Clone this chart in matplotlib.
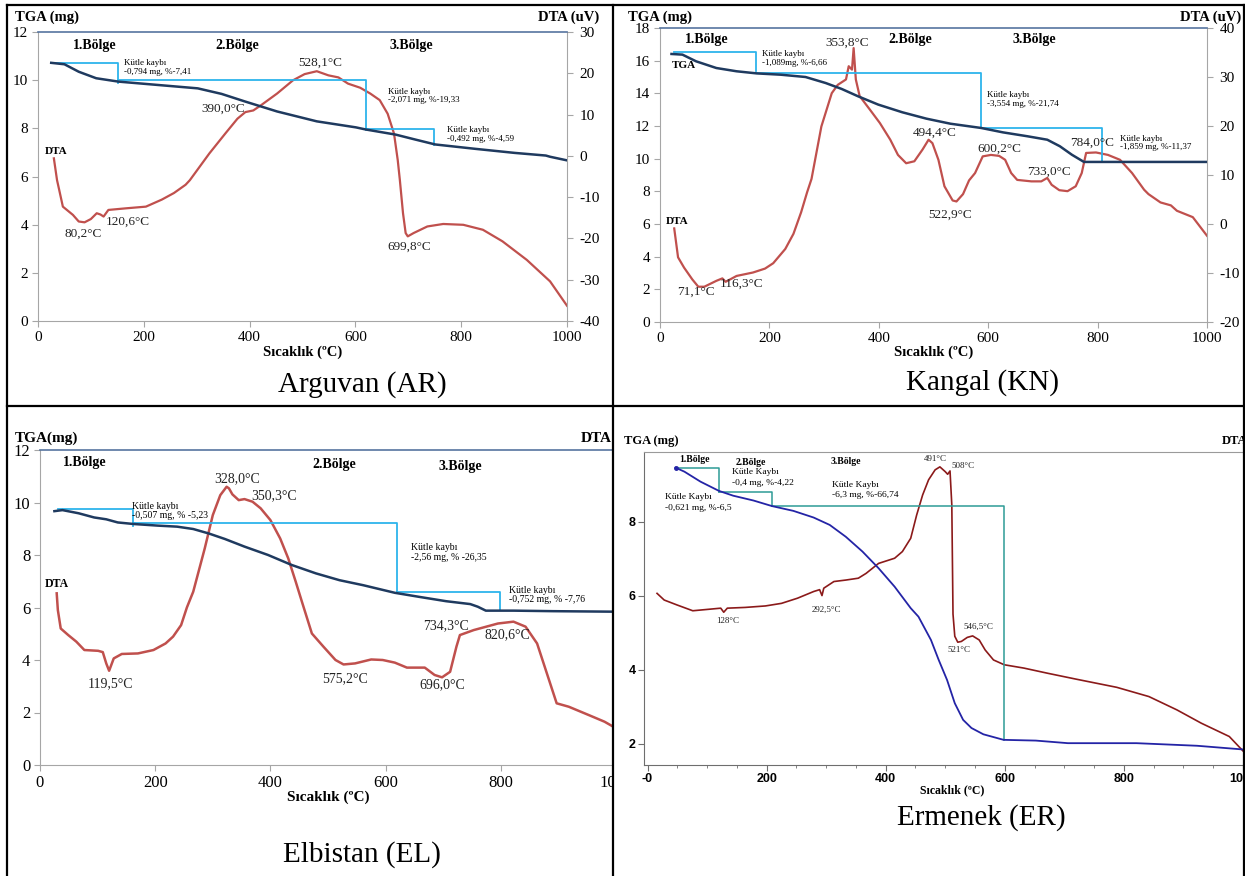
import matplotlib
matplotlib.use("Agg")
import matplotlib.pyplot as plt
from matplotlib.lines import Line2D
from matplotlib.patches import Rectangle
from matplotlib.transforms import Bbox, TransformedBbox
from matplotlib import font_manager

plt.rcParams['font.family'] = ['Liberation Serif', 'DejaVu Sans']
plt.rcParams['axes.unicode_minus'] = False
names = {f.name for f in font_manager.fontManager.ttflist}
NARROW = 'Liberation Sans Narrow' if 'Liberation Sans Narrow' in names else 'Liberation Sans'

# ---------------- data: Arguvan (AR) ----------------
ar_tga_T = [25, 50, 77, 110, 152, 227, 302, 347, 392, 452, 527, 601, 620, 676, 714, 751, 826, 901, 960, 968, 1000]
ar_tga_v = [10.72, 10.66, 10.35, 10.08, 9.94, 9.80, 9.66, 9.43, 9.11, 8.70, 8.29, 8.04, 7.95, 7.74, 7.53, 7.33, 7.15, 6.98, 6.87, 6.82, 6.67]
ar_dta_T = [30, 36, 40, 47, 66, 77, 88, 100, 111, 118, 124, 133, 167, 204, 234, 257, 279, 287, 324, 354, 377, 392,
            407, 422, 452, 482, 504, 527, 549, 568, 586, 609, 628, 646, 661, 673, 680, 684, 690, 695, 699, 710, 736,
            766, 804, 841, 878, 924, 968, 1000]
ar_dta_d = [-0.6, -5.9, -8.2, -12.3, -14.3, -15.9, -16.1, -15.3, -13.9, -14.2, -14.7, -13.1, -12.7, -12.3, -10.6, -9.0,
            -7.0, -5.9, 0.6, 5.4, 9.0, 10.6, 11.0, 12.3, 15.1, 18.3, 19.8, 20.5, 19.5, 19.0, 17.5, 16.5, 15.1, 13.5,
            10.2, 5.4, -1.0, -5.8, -13.9, -18.7, -19.5, -18.7, -17.1, -16.5, -16.7, -17.9, -20.7, -25.2, -30.4, -36.3]
ar_step_T = [25, 152, 620, 749]
ar_step_top = [10.72, 10.0, 7.97]
ar_step_bot = [9.90, 7.95, 7.31]
ar_loss = ["Kütle kaybı\n-0,794 mg, %-7,41", "Kütle kaybı\n-2,071 mg, %-19,33", "Kütle kaybı\n-0,492 mg, %-4,59"]
ar_loss_pos = [(163, 10.88), (661, 9.68), (774, 8.10)]
ar_peaks = ["528,1°C", "390,0°C", "80,2°C", "120,6°C", "699,8°C"]
ar_peak_pos = [(534, 10.72), (350, 8.81), (86, 3.61), (169, 4.13), (701, 3.10)]
ar_zones = [(107, 11.45), (377, 11.45), (706, 11.45)]

# ---------------- data: Kangal (KN) ----------------
kn_tga_T = [21, 41, 66, 103, 140, 177, 221, 266, 303, 332, 362, 399, 443, 487, 531, 587, 627, 672, 708, 731, 753, 775, 834, 1000]
kn_tga_v = [16.41, 16.37, 15.96, 15.55, 15.35, 15.22, 15.14, 15.0, 14.63, 14.27, 13.82, 13.31, 12.84, 12.45, 12.14,
            11.88, 11.61, 11.37, 11.16, 10.76, 10.24, 9.80, 9.80, 9.80]
kn_dta_T = [26, 33, 44, 59, 70, 81, 103, 114, 120, 140, 170, 192, 207, 229, 244, 258, 269, 277, 295, 314,
            325, 340, 345, 351, 354, 358, 365, 384, 402, 421, 435, 450, 465, 480, 491, 498, 509, 520, 535, 542,
            554, 565, 576, 590, 605, 620, 631, 642, 653, 679, 697, 708, 716, 730, 745, 760, 771, 779, 797, 819,
            841, 863, 885, 893, 915, 934, 945, 974, 1000]
kn_dta_d = [-0.9, -6.8, -8.9, -11.3, -12.8, -12.8, -11.6, -11.1, -11.8, -10.6, -9.9, -9.1, -8.0, -5.1, -2.0, 2.4,
            6.5, 9.2, 19.9, 26.7, 28.4, 29.5, 32.2, 31.5, 35.9, 29.5, 26.1, 23.3, 20.6, 17.2, 14.1, 12.4, 12.8,
            15.2, 17.2, 16.5, 13.1, 7.7, 4.8, 4.6, 6.1, 8.9, 10.4, 13.8, 14.1, 13.9, 13.1, 10.4, 9.0, 8.7, 8.7,
            9.4, 8.0, 6.9, 6.7, 7.7, 10.4, 14.5, 14.6, 14.1, 13.1, 10.4, 7.0, 6.1, 4.4, 3.8, 2.7, 1.4, -2.4]
kn_step_T = [26, 176, 587, 808]
kn_step_top = [16.51, 15.24, 11.88]
kn_step_bot = [15.35, 11.88, 9.80]
kn_loss = ["Kütle kaybı\n-1,089mg, %-6,66", "Kütle kaybı\n-3,554 mg, %-21,74", "Kütle kaybı\n-1,859 mg, %-11,37"]
kn_loss_pos = [(186, 16.63), (598, 14.12), (841, 11.47)]
kn_peaks = ["353,8°C", "494,4°C", "600,2°C", "733,0°C", "784,0°C", "522,9°C", "71,1°C", "116,3°C"]
kn_peak_pos = [(343, 17.12), (502, 11.57), (620, 10.59), (712, 9.22), (790, 11.0), (530, 6.58), (65, 1.85), (149, 2.36)]
kn_zones = [(85, 17.29), (458, 17.29), (685, 17.29)]

# ---------------- data: Elbistan (EL) ----------------
el_tga_T = [25, 39, 67, 94, 115, 135, 163, 204, 238, 266, 293, 321, 355, 396, 437, 479, 520, 561, 616, 657, 705,
            747, 760, 774, 822, 891, 1000]
el_tga_v = [9.67, 9.71, 9.59, 9.43, 9.36, 9.24, 9.18, 9.12, 9.08, 8.99, 8.82, 8.61, 8.32, 8.0, 7.62, 7.30, 7.04,
            6.85, 6.56, 6.41, 6.24, 6.13, 6.03, 5.88, 5.88, 5.86, 5.84]
el_dta_T = [29, 31, 36, 49, 63, 77, 101, 109, 115, 120, 128, 142, 170, 197, 218, 231, 245, 255, 266, 286,
            300, 313, 324, 328, 334, 345, 355, 369, 383, 400, 417, 431, 444, 455, 472, 492, 513, 527, 547, 575,
            595, 616, 637, 668, 685, 698, 712, 723, 729, 753, 795, 822, 843, 863, 880, 897, 918, 953, 980, 1000]
el_dta_v = [6.54, 5.90, 5.20, 4.95, 4.70, 4.38, 4.35, 4.30, 3.87, 3.59, 4.06, 4.23, 4.25, 4.38, 4.63, 4.89, 5.33,
            6.0, 6.60, 8.25, 9.52, 10.28, 10.6, 10.54, 10.31, 10.09, 10.13, 10.03, 9.78, 9.33, 8.63, 7.87, 6.98,
            6.2, 5.01, 4.51, 4.0, 3.83, 3.87, 4.02, 4.0, 3.90, 3.71, 3.71, 3.43, 3.34, 3.55, 4.51, 4.95, 5.14,
            5.39, 5.46, 5.27, 4.63, 3.49, 2.35, 2.22, 1.90, 1.65, 1.40]
el_step_T = [31, 161, 619, 799]
el_step_top = [9.75, 9.23, 6.60]
el_step_bot = [9.12, 6.56, 5.90]
el_loss = ["Kütle kaybı\n-0,507 mg, % -5,23", "Kütle kaybı\n-2,56 mg, % -26,35", "Kütle kaybı\n-0,752 mg, % -7,76"]
el_loss_pos = [(159, 10.03), (644, 8.44), (815, 6.83)]
el_peaks = ["328,0°C", "350,3°C", "119,5°C", "575,2°C", "696,0°C", "734,3°C", "820,6°C"]
el_peak_pos = [(343, 10.89), (407, 10.26), (123, 3.08), (529, 3.30), (698, 3.05), (704, 5.30), (812, 4.97)]
el_zones = [(77, 11.53), (510, 11.43), (729, 11.39)]

# ---------------- data: Ermenek (ER) ----------------
er_tga_T = [47, 62, 89, 120, 144, 178, 209, 245, 279, 306, 333, 361, 388, 415, 442, 455, 476, 489, 503, 516,
            530, 544, 564, 598, 652, 706, 821, 923, 1000]
er_tga_v = [9.46, 9.35, 9.08, 8.83, 8.70, 8.57, 8.42, 8.29, 8.11, 7.91, 7.59, 7.19, 6.74, 6.24, 5.66, 5.43, 4.80,
            4.26, 3.72, 3.09, 2.64, 2.42, 2.25, 2.10, 2.08, 2.01, 2.01, 1.94, 1.84]
er_dta_T = [16, 28, 49, 76, 103, 123, 128, 134, 164, 198, 225, 252, 279, 289, 293, 296, 313, 333, 354, 367,
            388, 415, 428, 442, 452, 462, 472, 483, 491, 500, 504, 508, 511, 513, 516, 521, 527, 537, 546, 557,
            567, 581, 599, 632, 672, 720, 788, 842, 889, 930, 977, 1000]
er_dta_v = [6.06, 5.88, 5.75, 5.59, 5.63, 5.66, 5.55, 5.66, 5.68, 5.72, 5.79, 5.93, 6.11, 6.16, 6.0, 6.2, 6.38,
            6.42, 6.47, 6.60, 6.87, 7.01, 7.19, 7.55, 8.18, 8.72, 9.13, 9.40, 9.48, 9.35, 9.28, 9.37, 8.45, 5.5,
            4.9, 4.74, 4.76, 4.87, 4.91, 4.80, 4.53, 4.26, 4.13, 4.04, 3.90, 3.74, 3.52, 3.27, 2.91, 2.55, 2.19, 1.80]
er_step_T = [48, 120, 209, 599]
er_step_top = [9.44, 8.81, 8.41]
er_step_bot = [8.81, 8.41, 2.10]
er_loss = ["Kütle Kaybı\n-0,4 mg, %-4,22", "Kütle Kaybı\n-6,3 mg, %-66,74", "Kütle Kaybı\n-0,621 mg, %-6,5"]
er_loss_pos = [(142, 9.44), (310, 9.11), (30, 8.77)]
er_peaks = ["491°C", "508°C", "292,5°C", "128°C", "546,5°C", "521°C"]
er_peak_pos = [(483, 9.68), (529, 9.49), (300, 5.61), (134, 5.32), (556, 5.16), (523, 4.53)]
er_zones = [(79, 9.67), (174, 9.60), (333, 9.62)]

zone_names = ["1.Bölge", "2.Bölge", "3.Bölge"]

TGA_C = '#1f3a5f'
DTA_C = '#c0504d'
STEP_C = '#2db4ec'
GRID_C = '#a6a6a6'
TOP_C = '#56749f'

W, H = 1245, 876
fig = plt.figure(figsize=(W / 100, H / 100), dpi=100)


def box(l, t, r, b):
    return fig.add_axes([l / W, 1 - b / H, (r - l) / W, (b - t) / H])


def ftext(x, y, s, **kw):
    fig.text(x / W, 1 - y / H, s, **kw)


def steps(ax, T, top, bot, color, lw):
    for i in range(len(top)):
        ax.plot([T[i], T[i + 1], T[i + 1]], [top[i], top[i], bot[i]], color=color, lw=lw, zorder=3)


def panel(l, t, r, b, ylim, yticks, size):
    ax = box(l, t, r, b)
    ax.set_xlim(0, 1000)
    ax.set_ylim(*ylim)
    ax.set_xticks(range(0, 1001, 200))
    ax.set_yticks(yticks)
    for s in ['left', 'bottom', 'right']:
        ax.spines[s].set_color(GRID_C)
    ax.spines['top'].set_color(TOP_C)
    ax.spines['top'].set_linewidth(1.2)
    ax.tick_params(direction='out', length=4, width=0.8, color=GRID_C, labelsize=size, pad=3)
    return ax


def add_dta_axis(ax, ylim, yticks, size):
    ax2 = ax.twinx()
    ax2.set_ylim(*ylim)
    ax2.set_yticks(yticks)
    for s in ['left', 'bottom', 'top']:
        ax2.spines[s].set_visible(False)
    ax2.spines['right'].set_color(GRID_C)
    ax.spines['right'].set_visible(False)
    ax2.tick_params(direction='out', length=4, width=0.8, color=GRID_C, labelsize=size, pad=5)
    ax.set_zorder(ax2.get_zorder() + 1)
    ax.patch.set_visible(False)
    return ax2


def annotate(ax, loss, loss_pos, peaks, peak_pos, zones, fs_loss, fs_peak, fs_zone, ls=1.1):
    for s, (x, y) in zip(loss, loss_pos):
        ax.text(x, y, s, fontsize=fs_loss, ha='left', va='top', linespacing=ls)
    for s, (x, y) in zip(peaks, peak_pos):
        ax.text(x, y, s, fontsize=fs_peak, ha='center', va='center', color='#222222')
    for s, (x, y) in zip(zone_names, zones):
        ax.text(x, y, s, fontsize=fs_zone, ha='center', va='center', fontweight='bold')


# ---------- AR ----------
ax = panel(38, 32, 567, 321, (0, 12), range(0, 13, 2), 11)
ax2 = add_dta_axis(ax, (-40, 30), range(-40, 31, 10), 11)
ax2.plot(ar_dta_T, ar_dta_d, color=DTA_C, lw=1.6)
ax.plot(ar_tga_T, ar_tga_v, color=TGA_C, lw=1.8, zorder=4)
steps(ax, ar_step_T, ar_step_top, ar_step_bot, STEP_C, 1.3)
annotate(ax, ar_loss, ar_loss_pos, ar_peaks, ar_peak_pos, ar_zones, 6.5, 9.5, 10)
ax.text(34, 7.05, "DTA", fontsize=8, fontweight='bold', ha='center', va='center')
ftext(15, 17, "TGA (mg)", fontsize=10.5, fontweight='bold', va='center')
ftext(599, 17, "DTA (uV)", fontsize=10.5, fontweight='bold', va='center', ha='right')
ftext(303, 352, "Sıcaklık (ºC)", fontsize=10.5, fontweight='bold', va='center', ha='center')
ftext(362, 385, "Arguvan (AR)", fontsize=21, va='center', ha='center')

# ---------- KN ----------
ax = panel(660, 28, 1207, 322, (0, 18), range(0, 19, 2), 11)
ax2 = add_dta_axis(ax, (-20, 40), range(-20, 41, 10), 11)
ax2.plot(kn_dta_T, kn_dta_d, color=DTA_C, lw=1.6)
ax.plot(kn_tga_T, kn_tga_v, color=TGA_C, lw=1.8, zorder=4)
steps(ax, kn_step_T, kn_step_top, kn_step_bot, STEP_C, 1.3)
annotate(ax, kn_loss, kn_loss_pos, kn_peaks, kn_peak_pos, kn_zones, 6.5, 9.5, 10)
ax.text(44, 15.69, "TGA", fontsize=8, fontweight='bold', ha='center', va='center')
ax.text(31, 6.17, "DTA", fontsize=8, fontweight='bold', ha='center', va='center')
ftext(628, 17, "TGA (mg)", fontsize=10.5, fontweight='bold', va='center')
ftext(1241, 17, "DTA (uV)", fontsize=10.5, fontweight='bold', va='center', ha='right')
ftext(934, 352, "Sıcaklık (ºC)", fontsize=10.5, fontweight='bold', va='center', ha='center')
ftext(982, 383, "Kangal (KN)", fontsize=21, va='center', ha='center')

# ---------- EL (cut off at the table border) ----------
ax = panel(40, 450, 616, 765, (0, 12), range(0, 13, 2), 12)
ax.spines['right'].set_visible(False)
cut = TransformedBbox(Bbox([[0, 0], [613.5 / W, 1]]), fig.transFigure)
for t in ax.xaxis.get_major_ticks():
    t.label1.set_clip_box(cut)
    t.label1.set_clip_on(True)
ax.plot(el_dta_T, el_dta_v, color=DTA_C, lw=1.8)
ax.plot(el_tga_T, el_tga_v, color=TGA_C, lw=1.8, zorder=4)
steps(ax, el_step_T, el_step_top, el_step_bot, STEP_C, 1.3)
annotate(ax, el_loss, el_loss_pos, el_peaks, el_peak_pos, el_zones, 7, 10, 10)
ax.text(30, 6.89, "DTA", fontsize=8.5, fontweight='bold', ha='center', va='center')
ftext(15, 438, "TGA(mg)", fontsize=11, fontweight='bold', va='center')
ftext(581, 438, "DTA", fontsize=11, fontweight='bold', va='center')
ftext(328, 797, "Sıcaklık (ºC)", fontsize=11, fontweight='bold', va='center', ha='center')
ftext(362, 855, "Elbistan (EL)", fontsize=21, va='center', ha='center')

# ---------- ER ----------
ax = box(644.3, 451.7, 1243, 765)
ax.set_xlim(-5.4, 1000)
ax.set_ylim(1.42, 9.89)
ax.set_xticks(range(0, 1001, 200))
ax.set_xticklabels(['-0', '200', '400', '600', '800', '1000'])
ax.set_xticks(range(50, 1000, 50), minor=True)
ax.set_yticks([2, 4, 6, 8])
for s in ['left', 'bottom']:
    ax.spines[s].set_color('#6e6e6e')
ax.spines['top'].set_color('#9a9a9a')
ax.spines['right'].set_visible(False)
ax.tick_params(direction='out', length=4, width=0.8, color='#6e6e6e', pad=2)
ax.tick_params(which='minor', direction='out', length=2, width=0.6, color='#6e6e6e')
for lab in ax.get_xticklabels() + ax.get_yticklabels():
    lab.set_fontfamily(NARROW)
    lab.set_fontweight('bold')
    lab.set_fontsize(9)
ax.plot(er_dta_T, er_dta_v, color='#8b1a1a', lw=1.2)
ax.plot(er_tga_T, er_tga_v, color='#2424a6', lw=1.3, zorder=4)
ax.plot(er_tga_T[:1], er_tga_v[:1], 'o', color='#2424a6', ms=2.5, zorder=4)
steps(ax, er_step_T, er_step_top, er_step_bot, '#2e9b96', 1.1)
annotate(ax, er_loss, er_loss_pos, er_peaks, er_peak_pos, er_zones, 6.8, 6.5, 7, ls=1.45)
ftext(624, 441, "TGA (mg)", fontsize=9, fontweight='bold', va='center')
ftext(1222, 441, "DTA", fontsize=9, fontweight='bold', va='center')
ftext(952, 790, "Sıcaklık (ºC)", fontsize=8.5, fontweight='bold', va='center', ha='center')
ftext(981, 818, "Ermenek (ER)", fontsize=21, va='center', ha='center')

# hide the part of the EL plot box that runs past the table border
fig.add_artist(Rectangle((613.5 / W, 1 - 772 / H), 5 / W, 330 / H, transform=fig.transFigure,
                         facecolor='white', edgecolor='none', zorder=5))

# table borders
for x0, y0, x1, y1 in [(7, 5, 7, 876), (7, 5, 1244, 5), (1244, 5, 1244, 876),
                       (613, 5, 613, 876), (7, 406, 1244, 406)]:
    fig.add_artist(Line2D([x0 / W, x1 / W], [1 - y0 / H, 1 - y1 / H], transform=fig.transFigure,
                          color='black', lw=1.6, zorder=6))

fig.savefig("out.png", dpi=100)
